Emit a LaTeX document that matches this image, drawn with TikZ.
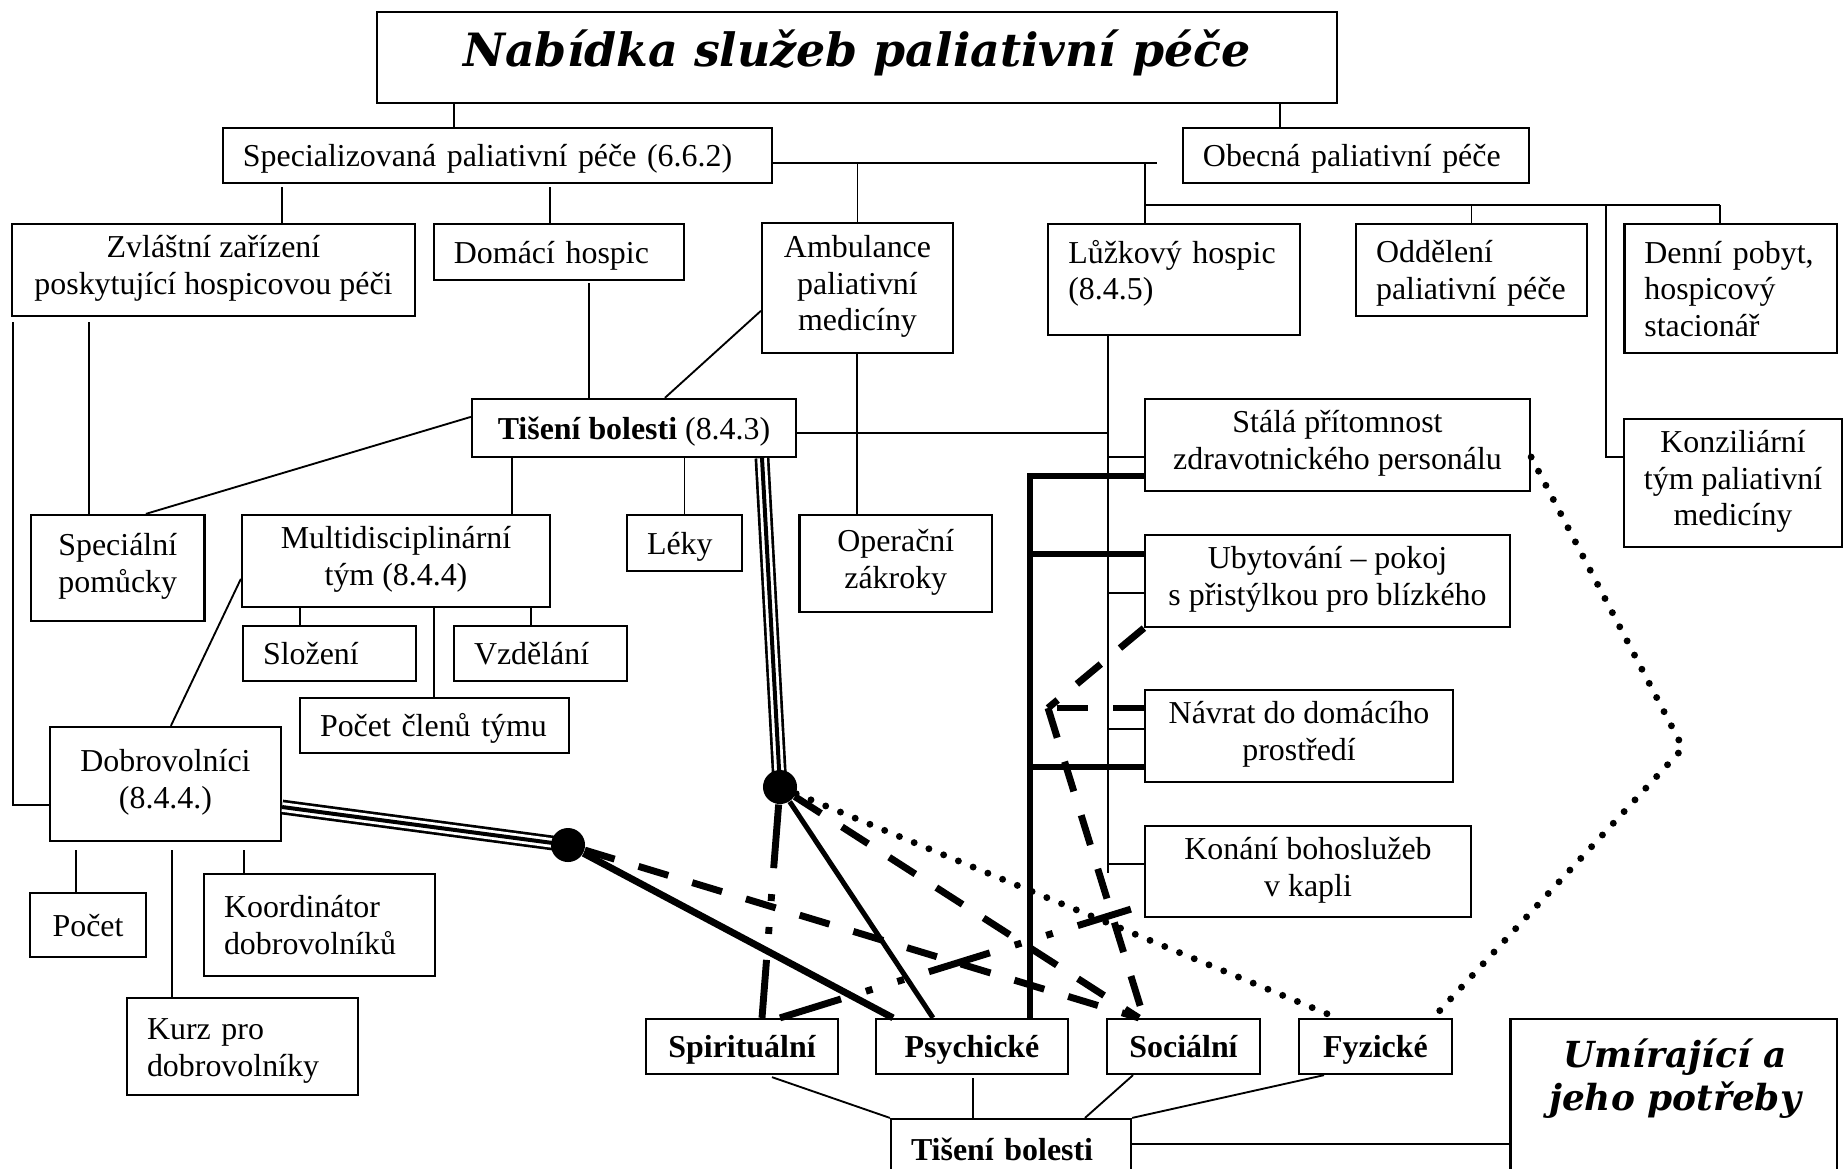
\documentclass[tikz,border=0pt]{standalone}
\usepackage{fontspec}
\setmainfont{Liberation Serif}
\newfontfamily\dvserif{DejaVu Serif}
\usetikzlibrary{calc}
\begin{document}
\begin{tikzpicture}[x=0.376pt,y=-0.376pt,
  wh/.style 2 args={minimum width=#1*0.376pt, minimum height=#2*0.376pt},
  bx/.style={draw, line width=0.85pt, inner xsep=7.5pt, inner ysep=0pt, align=center,
    font=\fontsize{12}{13.8}\selectfont,
    execute at begin node={\rule{0pt}{12.2pt}},
    execute at end node={\rule[-3.7pt]{0pt}{0pt}}},
  lft/.style={align=left, text width=#1},
  bld/.style={font=\fontsize{12}{13.8}\selectfont\bfseries},
  cn/.style={line width=0.7pt},
  thk/.style={line width=2.6pt},
  med/.style={line width=1.9pt},
  dsh/.style={line width=2.6pt, dash pattern=on 11.7pt off 9.4pt},
  ddd/.style={line width=2.6pt, dash pattern=on 24pt off 9.8pt on 2.6pt off 9.8pt on 2.6pt off 9.8pt},
  dtt/.style={line width=2.6pt, line cap=round, dash pattern=on 0pt off 6pt},
  tri/.style={line width=5.6pt, postaction={draw, white, line width=3.6pt}, postaction={draw, black, line width=1.5pt}},
  dot/.style={circle, fill, inner sep=0pt, minimum size=12.8pt},
]
\path[use as bounding box] (0,0) rectangle (1843,1168);

% ---------- boxes ----------
\node[draw, line width=0.85pt, inner sep=0pt, wh={960}{91}, text height=12pt, text depth=4.9pt,
  font=\dvserif\bfseries\itshape\fontsize{17.25}{20}\selectfont] (title) at (857,57.5) {Nabídka služeb paliativní péče};
\node[bx, wh={549}{55}, lft=191.4pt] (spec) at (497.5,155.5) {Specializovaná paliativní péče (6.6.2)};
\node[bx, wh={346}{55}, lft=115.1pt] (obec) at (1356,155.5) {Obecná paliativní péče};
\node[bx, wh={403}{92}] (zvl) at (213.5,270) {Zvláštní zařízení\\poskytující hospicovou péči};
\node[bx, wh={250}{56}, lft=79pt] (dom) at (559,252) {Domácí hospic};
\node[bx, wh={191}{130}] (amb) at (857.5,288) {Ambulance\\paliativní\\medicíny};
\node[bx, wh={250}{111}, lft=79.5pt] (luz) at (1174,279.5) {Lůžkový hospic\\(8.4.5)\rule[-10.8pt]{0pt}{0pt}};
\node[bx, wh={231}{92}, lft=71.8pt] (odd) at (1471.5,270) {Oddělení\\paliativní péče};
\node[bx, wh={212.5}{129}, lft=65pt] (den) at (1730.75,288.5) {Denní pobyt,\\hospicový\\stacionář};
\node[bx, wh={324}{58}] (tis) at (634,428) {\textbf{Tišení bolesti} (8.4.3)};
\node[bx, wh={385}{92}] (sta) at (1337.5,445) {Stálá přítomnost\\zdravotnického personálu};
\node[bx, wh={216}{128}] (kon) at (1733,483) {Konziliární\\tým paliativní\\medicíny};
\node[bx, wh={173.5}{106}] (spe) at (117.75,568) {Speciální\\pomůcky};
\node[bx, wh={308}{92}] (mul) at (396,561) {Multidisciplinární\\tým (8.4.4)};
\node[bx, wh={115}{56}, lft=28.2pt] (lek) at (684.5,543) {Léky};
\node[bx, wh={192.5}{97}] (ope) at (895.75,563.5) {Operační\\zákroky};
\node[bx, wh={365}{92}] (uby) at (1327.5,581) {Ubytování – pokoj\\s přistýlkou pro blízkého};
\node[bx, wh={173}{55}, lft=50pt] (slo) at (329.5,653.5) {Složení};
\node[bx, wh={173}{55}, lft=50pt] (vzd) at (540.5,653.5) {Vzdělání};
\node[bx, wh={269}{55}, lft=86.1pt] (poc) at (434.5,725.5) {Počet členů týmu};
\node[bx, wh={308}{92}] (nav) at (1299,736) {Návrat do domácího\\prostředí};
\node[bx, wh={231}{114}] (dob) at (165.5,784) {Dobrovolníci\\(8.4.4.)};
\node[bx, wh={326}{91}] (kna) at (1308,871.5) {Konání bohoslužeb\\v kapli};
\node[bx, wh={116}{64}] (pct) at (88,925) {Počet};
\node[bx, wh={231}{102}, lft=71.8pt] (koo) at (319.5,925) {Koordinátor\\dobrovolníků};
\node[bx, wh={231}{97}, lft=71.8pt] (kur) at (242.5,1046.5) {Kurz pro\\dobrovolníky};
\node[bx, bld, wh={192}{55}] (spi) at (742,1046.5) {Spirituální};
\node[bx, bld, wh={191.5}{55}] (psy) at (972,1046.5) {Psychické};
\node[bx, bld, wh={153}{55}] (soc) at (1183.5,1046.5) {Sociální};
\node[bx, bld, wh={153}{55}] (fyz) at (1375.5,1046.5) {Fyzické};
\node[bx, bld, wh={240}{60}, lft=75.2pt] (tb2) at (1011,1149) {Tišení bolesti};
\node[draw, line width=0.85pt, wh={326.4}{171}] (umi) at (1673.8,1104.5) {};
\node[font=\dvserif\bfseries\itshape\fontsize{13.5}{16.2}\selectfont, align=center, inner sep=0pt] (umiT) at (1675,1079) {Umírající a\\jeho potřeby};

% ---------- thin connectors ----------
\begin{scope}[cn]
\draw (title.south -| 454,0) -- (spec.north -| 454,0);
\draw (title.south -| 1280,0) -- (obec.north -| 1280,0);
\draw (spec.east |- 0,163) -- (1157,163);
\draw (amb.north) -- (amb.north |- 0,163);
\draw (luz.north -| 1145,0) -- (1145,163);
\draw (1145,205) -- (1720,205);
\draw (odd.north) -- (odd.north |- 0,205);
\draw (den.north -| 1720,0) -- (1720,205);
\draw (1606,205) |- (kon.west |- 0,457);
\draw ($(spec.south -| 282,0)+(0,3)$) -- (zvl.north -| 282,0);
\draw ($(spec.south -| 550,0)+(0,3)$) -- (dom.north -| 550,0);
\draw ($(amb.north west)+(0,89)$) -- ($(tis.north west)+(194,0)$);
\draw ($(dom.south -| 589,0)+(0,2)$) -- (tis.north -| 589,0);
\draw ($(zvl.south -| 89,0)+(0,5)$) -- (spe.north -| 89,0);
\draw ($(zvl.south -| 13,0)+(0,5)$) |- (dob.west |- 0,805);
\draw ($(tis.north west)+(0,19)$) -- ($(spe.north west)+(116,0)$);
\draw (tis.south -| 512,0) -- (mul.north -| 512,0);
\draw (tis.south -| lek.north) -- (lek.north);
\draw (tis.east |- 0,433) -- (1108,433);
\draw (luz.south -| 1108,0) -- (1108,873);
\draw (1108,457) -- (sta.west |- 0,457);
\draw (1108,593) -- (uby.west |- 0,593);
\draw (1108,729) -- (nav.west |- 0,729);
\draw (1108,864) -- (kna.west |- 0,864);
\draw (amb.south -| 857,0) -- (ope.north -| 857,0);
\draw (mul.south -| 300,0) -- (slo.north -| 300,0);
\draw (mul.south -| 531,0) -- (vzd.north -| 531,0);
\draw (mul.south -| 434,0) -- (poc.north -| 434,0);
\draw ($(mul.north west)+(0,65)$) -- ($(dob.north west)+(122,0)$);
\draw ($(dob.south -| 76,0)+(0,8)$) -- (pct.north -| 76,0);
\draw ($(dob.south -| 172,0)+(0,8)$) -- (kur.north -| 172,0);
\draw ($(dob.south -| 244,0)+(0,8)$) -- (koo.north -| 244,0);
\draw ($(spi.south -| 772,0)+(0,2)$) -- (tb2.north west);
\draw ($(psy.south -| 973,0)+(0,3)$) -- (tb2.north -| 973,0);
\draw (soc.south -| 1133,0) -- (tb2.north -| 1085,0);
\draw (fyz.south -| 1324,0) -- (tb2.north east);
\draw (tb2.east |- 0,1144) -- (umi.west |- 0,1144);
\end{scope}

% ---------- thick bracket ----------
\draw[thk, line join=miter] (psy.north -| 1030,0) -- (1030,476) -- (sta.west |- 0,476);
\draw[thk] (1030,554) -- (uby.west |- 0,554);
\draw[thk] (1030,767) -- (nav.west |- 0,767);

% ---------- triple lines and dots ----------
\coordinate (d1c) at (780,787);
\coordinate (d2c) at (568,845);
\draw[tri] (tis.south -| 762,0) -- (d1c);
\draw[tri] (dob.east |- 0,807) -- (d2c);
\node[dot] (d1) at (d1c) {};
\node[dot] (d2) at (d2c) {};

\coordinate (soctip) at ($(soc.north west)+(33,0)$);
\coordinate (soctipb) at ($(soc.north west)+(38,0)$);
\coordinate (kntip) at ($(kna.south west)+(-13,-9)$);
\coordinate (arrtip) at (1048,708);
\coordinate (pk) at (1683,748);

\draw[thk] (d2) -- (psy.north -| 893,0);
\draw[dsh] (d2) -- (soctip);
\draw[med] (d1) -- (psy.north -| 933,0);
\draw[ddd] (d1) -- (spi.north -| 762,0);
\draw[dsh] (d1) -- (soctip);
\draw[dtt] (d1) -- (fyz.north -| 1337,0);
\draw[ddd] (spi.north -| 780,0) -- (kntip);
\draw[dsh] (uby.south west) -- (arrtip);
\draw[dsh] (nav.west |- 0,708) -- (arrtip);
\draw[dsh] (arrtip) -- (soctipb);
\draw[dtt] (sta.east |- 0,457) -- (pk) -- (fyz.north -| 1433,0);
\end{tikzpicture}
\end{document}
